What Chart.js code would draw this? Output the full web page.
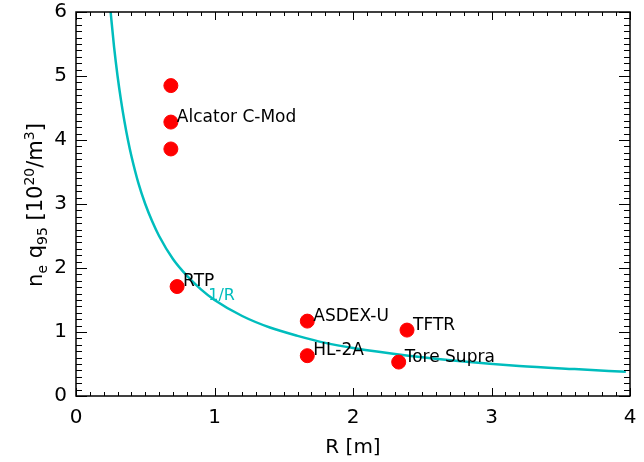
<!DOCTYPE html>
<html>
<head>
<meta charset="utf-8">
<script src="https://cdn.jsdelivr.net/npm/chart.js@4"></script>
<style>
  html, body { margin: 0; padding: 0; background: #fff; }
  #wrap { width: 644px; height: 462px; }
</style>
</head>
<body>
<div id="wrap"><canvas id="myChart"></canvas></div>
<script>
// machines: major radius R [m] and n_e q95 [10^20/m^3]
var machineR    = [0.685, 0.685, 0.685, 0.73, 1.67, 1.67, 2.39, 2.33];
var machineNq   = [4.85, 4.28, 3.86, 1.71, 1.17, 0.63, 1.03, 0.53];
var machineName = ['', 'Alcator C-Mod', '', 'RTP', 'ASDEX-U', 'HL-2A', 'TFTR', 'Tore Supra'];

// the 1/R reference curve
var curveR  = [0.25, 0.275, 0.3, 0.325, 0.35, 0.375, 0.4, 0.45, 0.5, 0.55, 0.6, 0.7, 0.8, 0.9,
               1.0, 1.2, 1.4, 1.6, 1.8, 2.0, 2.4, 2.8, 3.2, 3.6, 3.97];
var curveNq = [6.0, 5.45, 5.0, 4.62, 4.29, 4.0, 3.75, 3.33, 3.0, 2.73, 2.5, 2.14, 1.88, 1.67,
               1.5, 1.25, 1.07, 0.94, 0.83, 0.75, 0.63, 0.54, 0.47, 0.42, 0.378];
var curveLabel = '1/R';
var curveLabelAt = [0.955, 1.57];

var xTicks = [0, 1, 2, 3, 4];
var yTicks = [0, 1, 2, 3, 4, 5, 6];

var FONT = '"DejaVu Sans", "Liberation Sans", Arial, sans-serif';
var CYAN = '#00bdbd';

function toXY(xs, ys) {
  var out = [];
  for (var i = 0; i < xs.length; i++) out.push({ x: xs[i], y: ys[i] });
  return out;
}

// no extra room for overflowing tick labels, the layout padding decides
function noPad(s) {
  s.paddingTop = 0; s.paddingBottom = 0; s.paddingLeft = 0; s.paddingRight = 0;
}

// box, inward ticks on all four sides, point labels, y title
var framePlugin = {
  id: 'frame',
  afterDatasetsDraw: function (chart) {
    var ctx = chart.ctx, a = chart.chartArea;
    var xs = chart.scales.x, ys = chart.scales.y;
    ctx.save();
    ctx.strokeStyle = '#000';
    ctx.lineWidth = 1.5;
    ctx.strokeRect(a.left, a.top, a.right - a.left, a.bottom - a.top);

    ctx.lineWidth = 1;
    ctx.beginPath();
    for (var i = 0; i <= 40; i++) {
      var px = Math.round(xs.getPixelForValue(i / 10)) + 0.5;
      var len = (i % 10 === 0) ? 8 : 4;
      ctx.moveTo(px, a.bottom); ctx.lineTo(px, a.bottom - len);
      ctx.moveTo(px, a.top); ctx.lineTo(px, a.top + len);
    }
    for (var j = 0; j <= 60; j++) {
      var py = Math.round(ys.getPixelForValue(j / 10)) + 0.5;
      var ylen = (j % 10 === 0) ? 11 : 6;
      ctx.moveTo(a.left, py); ctx.lineTo(a.left + ylen, py);
      ctx.moveTo(a.right, py); ctx.lineTo(a.right - ylen, py);
    }
    ctx.stroke();

    // machine names
    ctx.fillStyle = '#000';
    ctx.font = '17px ' + FONT;
    ctx.textAlign = 'left';
    ctx.textBaseline = 'middle';
    for (var k = 0; k < machineName.length; k++) {
      if (!machineName[k]) continue;
      ctx.fillText(machineName[k],
        xs.getPixelForValue(machineR[k]) + 6,
        ys.getPixelForValue(machineNq[k]) - 5);
    }

    // curve label
    ctx.fillStyle = CYAN;
    ctx.font = '16px ' + FONT;
    ctx.fillText(curveLabel, xs.getPixelForValue(curveLabelAt[0]), ys.getPixelForValue(curveLabelAt[1]));

    // y axis title with sub/superscripts
    var parts = [
      ['n', 0, 21], ['e', 5, 14], [' q', 0, 21], ['95', 5, 14],
      [' [10', 0, 21], ['20', -8, 14], ['/m', 0, 21], ['3', -8, 14], [']', 0, 21]
    ];
    var total = 0;
    parts.forEach(function (p) { ctx.font = p[2] + 'px ' + FONT; total += ctx.measureText(p[0]).width; });
    ctx.translate(42, 205);
    ctx.rotate(-Math.PI / 2);
    ctx.fillStyle = '#000';
    ctx.textBaseline = 'alphabetic';
    var cx = -total / 2;
    parts.forEach(function (p) {
      ctx.font = p[2] + 'px ' + FONT;
      ctx.fillText(p[0], cx, p[1]);
      cx += ctx.measureText(p[0]).width;
    });
    ctx.restore();
  }
};

new Chart(document.getElementById('myChart').getContext('2d'), {
  type: 'scatter',
  data: {
    datasets: [{
      type: 'scatter',
      data: toXY(machineR, machineNq),
      backgroundColor: '#ff0000',
      borderColor: '#ff0000',
      pointRadius: 7,
      pointHoverRadius: 7,
      order: 0
    }, {
      type: 'line',
      data: toXY(curveR, curveNq),
      borderColor: CYAN,
      borderWidth: 2.5,
      pointRadius: 0,
      cubicInterpolationMode: 'monotone',
      fill: false,
      order: 1
    }]
  },
  options: {
    responsive: true,
    maintainAspectRatio: false,
    animation: false,
    devicePixelRatio: 1,
    layout: { padding: { top: 12, right: 14, left: 0, bottom: 0 } },
    plugins: { legend: { display: false }, tooltip: { enabled: false } },
    scales: {
      x: {
        type: 'linear', min: 0, max: 4,
        afterFit: function (s) { s.height = 66; noPad(s); },
        afterBuildTicks: function (s) { s.ticks = xTicks.map(function (v) { return { value: v }; }); },
        grid: { display: false, drawTicks: false },
        border: { display: false },
        ticks: { color: '#000', font: { family: FONT, size: 20 }, padding: 10, maxRotation: 0 },
        title: { display: true, text: 'R [m]', color: '#000', font: { family: FONT, size: 20 }, padding: { top: 0, bottom: 2 } }
      },
      y: {
        type: 'linear', min: 0, max: 6,
        afterFit: function (s) { s.width = 76; noPad(s); },
        afterBuildTicks: function (s) { s.ticks = yTicks.map(function (v) { return { value: v }; }); },
        grid: { display: false, drawTicks: false },
        border: { display: false },
        ticks: { color: '#000', font: { family: FONT, size: 20 }, padding: 9 }
      }
    }
  },
  plugins: [framePlugin]
});
</script>
</body>
</html>
